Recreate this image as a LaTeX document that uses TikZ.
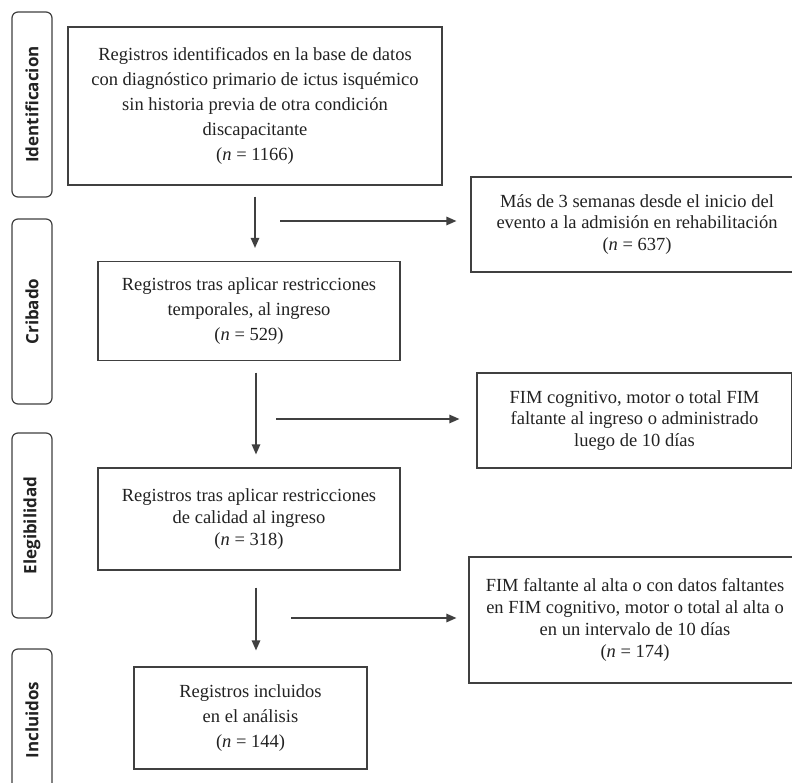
\documentclass[tikz,border=0pt]{standalone}
\usepackage{fontspec}
\setmainfont{Liberation Serif}
\newfontfamily\phasefont{Open Sans}
\usetikzlibrary{arrows.meta}

\definecolor{linegray}{HTML}{404040}
\definecolor{textgray}{HTML}{222222}

\tikzset{
  box/.style={draw=linegray, line width=1.2pt, align=center, text=textgray, inner sep=0pt,
    font=\fontsize{18.5}{25}\selectfont},
  tightbox/.style={box, font=\fontsize{18.5}{21.7}\selectfont},
  phase/.style={draw=linegray, line width=1.2pt, rounded corners=6pt, rotate=90,
    minimum height=40pt, inner sep=0pt, text=textgray,
    font=\phasefont\bfseries\fontsize{17}{20}\selectfont},
  arr/.style={draw=linegray, line width=1.3pt, -{Triangle[length=10pt,width=8.5pt]}},
}

\begin{document}
\begin{tikzpicture}[x=1pt, y=-1pt]
  \clip (0,0) rectangle (792,783);
  \fill[white] (0,0) rectangle (792,783);

  \node[phase, minimum width=185pt] (idf) at (32,104.5) {Identificacion};
  \node[phase, minimum width=185pt] (crib) at (32,311.5) {Cribado};
  \node[phase, minimum width=185pt] (eleg) at (32,525.5) {Elegibilidad};
  \node[phase, minimum width=142pt] (incl) at (32,720) {Incluidos};

  \node[box, minimum width=374pt, minimum height=158pt] (reg) at (255,106)
    {Registros identificados en la base de datos\\con diagnóstico primario de ictus isquémico\\sin historia previa de otra condición\\discapacitante\\(\textit{n} = 1166)};
  \node[box, minimum width=302pt, minimum height=99pt] (temp) at (249,311)
    {Registros tras aplicar restricciones\\temporales, al ingreso\\(\textit{n} = 529)};
  \node[tightbox, minimum width=302pt, minimum height=102pt] (cal) at (249,519)
    {Registros tras aplicar restricciones\\de calidad al ingreso\\(\textit{n} = 318)};
  \node[box, minimum width=233pt, minimum height=102pt] (final) at (250.5,718)
    {Registros incluidos\\en el análisis\\(\textit{n} = 144)};

  \node[tightbox, minimum width=332pt, minimum height=95pt] (excl1) at (637,224.5)
    {Más de 3 semanas desde el inicio del\\evento a la admisión en rehabilitación\\(\textit{n} = 637)};
  \node[tightbox, minimum width=315pt, minimum height=95pt] (excl2) at (634.5,420.5)
    {FIM cognitivo, motor o total FIM\\faltante al ingreso o administrado\\luego de 10 días};
  \node[tightbox, minimum width=332pt, minimum height=126pt] (excl3) at (635,620)
    {FIM faltante al alta o con datos faltantes\\en FIM cognitivo, motor o total al alta o\\en un intervalo de 10 días\\(\textit{n} = 174)};

  \coordinate (out1) at (280,221);
  \coordinate (out2) at (276,419);
  \coordinate (out3) at (291,618);

  \draw[arr, shorten <=11pt, shorten >=13pt] (reg.south) -- (reg.south |- temp.north);
  \draw[arr, shorten <=11.5pt, shorten >=13pt] ([xshift=7pt]temp.south) -- ([xshift=7pt]cal.north);
  \draw[arr, shorten <=17pt, shorten >=16pt] ([xshift=7pt]cal.south) -- ([xshift=7pt]cal.south |- final.north);

  \draw[arr, shorten >=14pt] (out1) -- (out1 -| excl1.west);
  \draw[arr, shorten >=17pt] (out2) -- (out2 -| excl2.west);
  \draw[arr, shorten >=12pt] (out3) -- (out3 -| excl3.west);
\end{tikzpicture}
\end{document}
